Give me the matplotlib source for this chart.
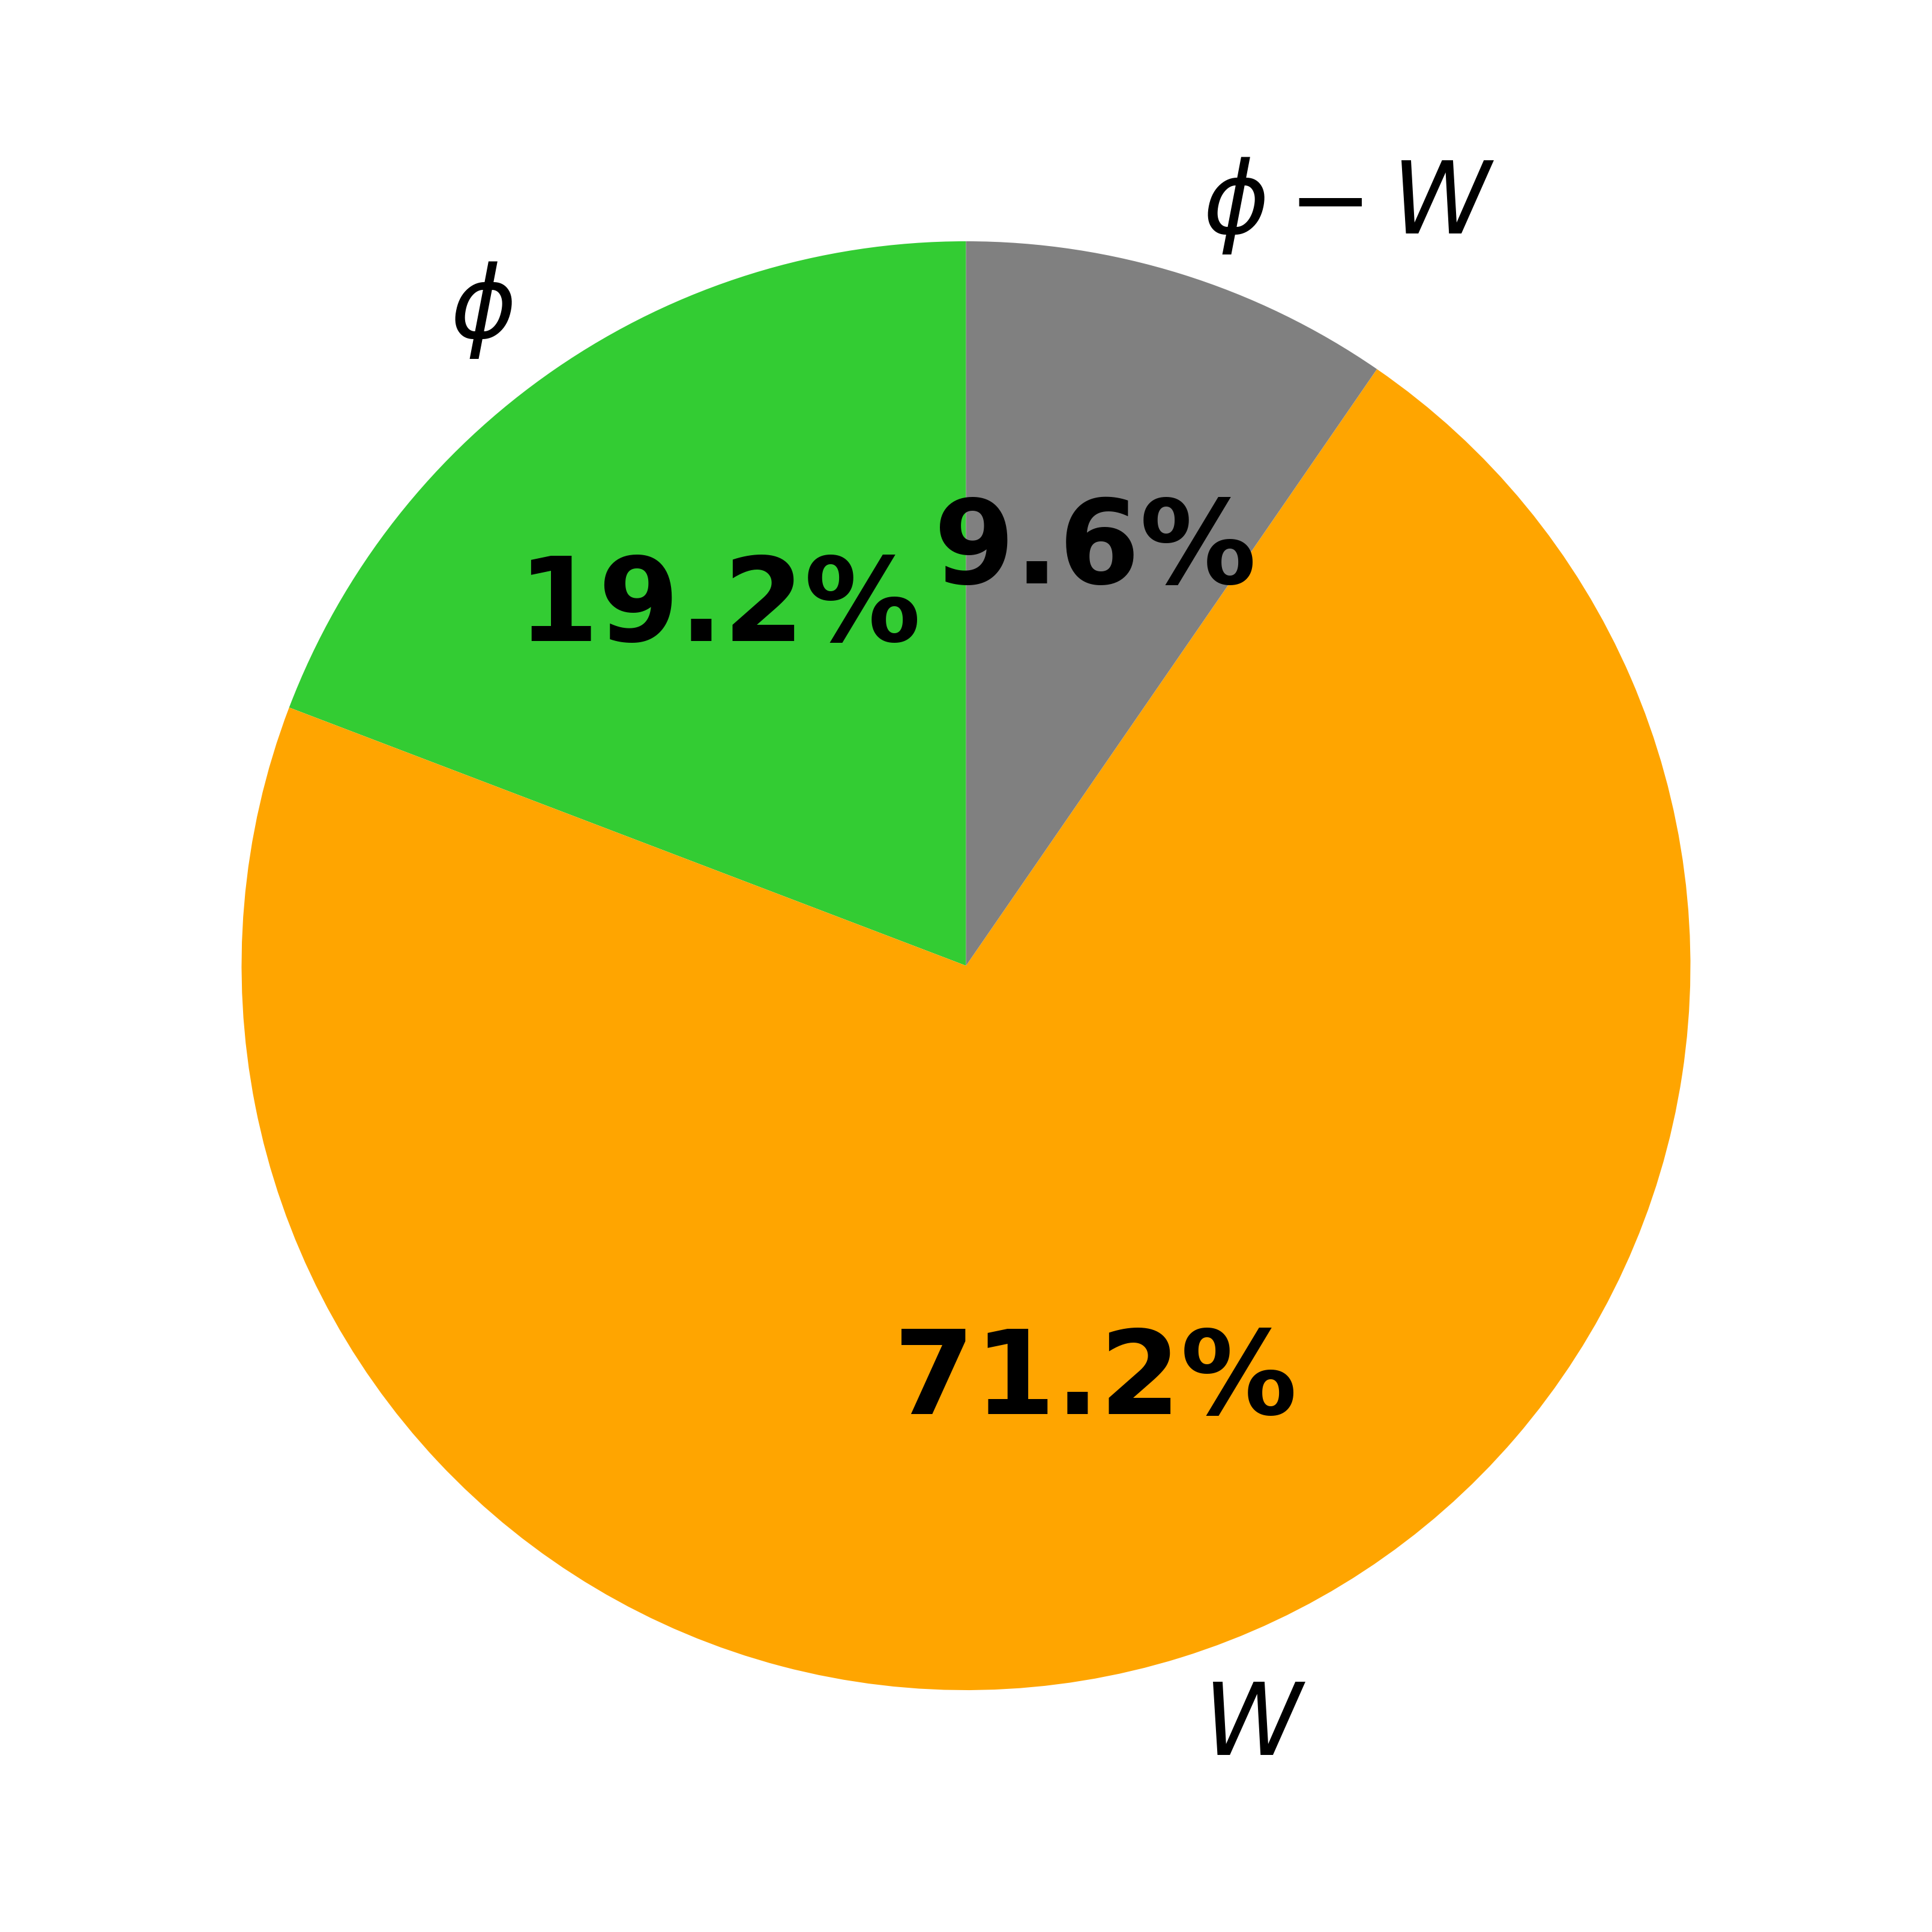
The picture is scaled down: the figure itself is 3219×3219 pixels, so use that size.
import numpy as np
import matplotlib
matplotlib.use('Agg')
import matplotlib.pyplot as plt

# slices, counter-clockwise from the top
labels = [r'$\phi$', r'$W$', r'$\phi - W$']
shares = [19.2, 71.2, 9.6]
colors = ['#33cc33', '#ffa500', '#808080']

fig = plt.figure(figsize=(10.73, 10.7333), dpi=300)
ax = fig.add_axes([0, 0, 1, 1])

wedges, texts, autotexts = ax.pie(shares, labels=labels, colors=colors,
                                  startangle=90, autopct='%1.1f%%',
                                  textprops={'fontsize': 40})
for t in autotexts:
    t.set_fontsize(46.5)
    t.set_fontweight('bold')

lim = 3219 / 2 / 1207
ax.set_xlim(-lim, lim)
ax.set_ylim(-lim, lim)
ax.set_aspect('equal')

fig.savefig('out.png', dpi=300)
